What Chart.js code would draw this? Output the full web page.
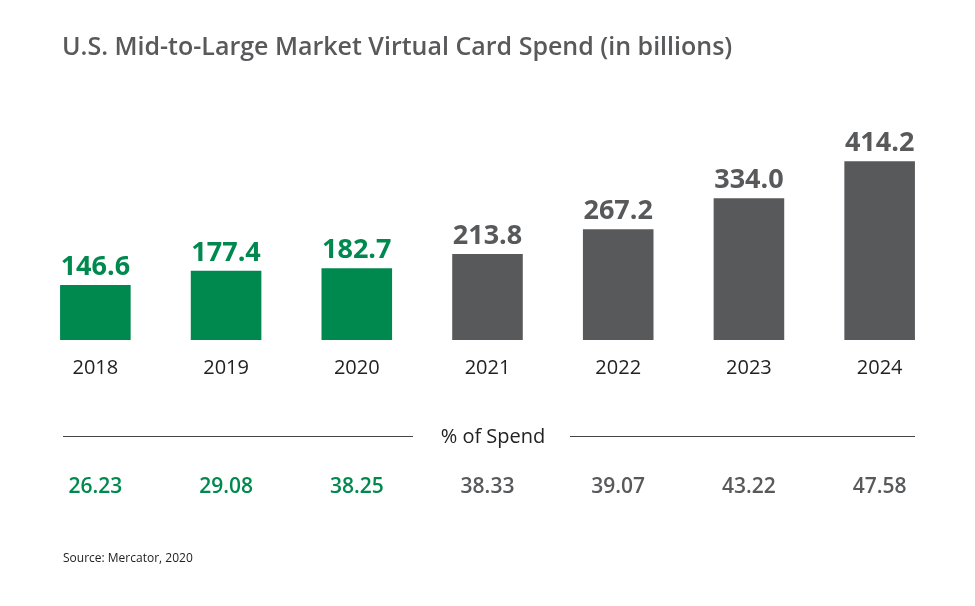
<!DOCTYPE html>
<html><head><meta charset="utf-8">
<script src="https://cdn.jsdelivr.net/npm/chart.js@4/dist/chart.umd.min.js"></script>
<style>html,body{margin:0;padding:0;background:#fff;}#wrap{position:relative;width:975px;height:606px;}</style>
</head><body><div id="wrap"><canvas id="c" width="975" height="606"></canvas></div>
<script>
const categories=["2018","2019","2020","2021","2022","2023","2024"];
const spend=[146.6,177.4,182.7,213.8,267.2,334.0,414.2];
const pctSpend=["26.23","29.08","38.25","38.33","39.07","43.22","47.58"];
const actualCount=3;
const GREEN="#00894f",GRAY="#58595b";
const colors=categories.map((c,i)=>i<actualCount?GREEN:GRAY);
const deco={id:'deco',afterDraw(ch){
  const ctx=ch.ctx,x=ch.scales.x,y=ch.scales.y;
  ctx.save();
  ctx.fillStyle="#58595b";ctx.font="600 25px 'Open Sans'";ctx.textAlign="left";ctx.textBaseline="alphabetic";
  ctx.fillText("U.S. Mid-to-Large Market Virtual Card Spend (in billions)",62,55);
  ctx.textAlign="center";
  spend.forEach((v,i)=>{ctx.fillStyle=colors[i];ctx.font="bold 27px 'Open Sans'";
    ctx.fillText(v.toFixed(1),x.getPixelForValue(i),y.getPixelForValue(v)-10);});
  ctx.strokeStyle="#444";ctx.lineWidth=1;ctx.beginPath();
  ctx.moveTo(63,436.5);ctx.lineTo(413,436.5);ctx.moveTo(570,436.5);ctx.lineTo(915,436.5);ctx.stroke();
  ctx.fillStyle="#222";ctx.font="20px 'Open Sans'";ctx.fillText("% of Spend",493,443);
  pctSpend.forEach((p,i)=>{ctx.fillStyle=colors[i];ctx.font="600 21px 'Open Sans'";
    ctx.fillText(p,x.getPixelForValue(i),493);});
  ctx.fillStyle="#222";ctx.font="12px 'Open Sans'";ctx.textAlign="left";
  ctx.fillText("Source: Mercator, 2020",63,562);
  ctx.restore();
}};
new Chart(document.getElementById('c'),{type:'bar',
 data:{labels:categories,datasets:[{data:spend,backgroundColor:colors,barPercentage:0.54,categoryPercentage:1}]},
 options:{responsive:false,animation:false,events:[],
  layout:{padding:{left:30,right:30,top:130,bottom:218}},
  plugins:{legend:{display:false},tooltip:{enabled:false}},
  scales:{x:{grid:{display:false},border:{display:false},ticks:{color:"#222",font:{size:20,family:"'Open Sans'"},padding:8}},
          y:{display:false,min:28,max:481.5}}},
 plugins:[deco]});
</script></body></html>
